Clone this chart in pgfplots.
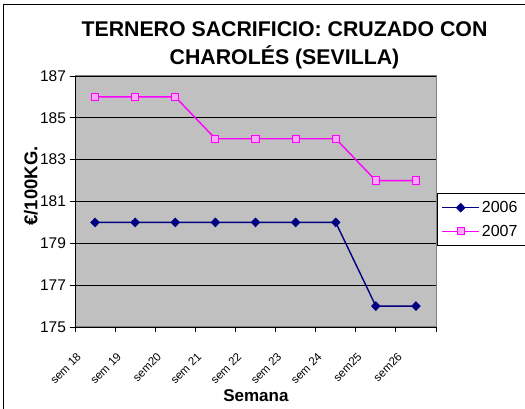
\documentclass[border=0pt]{standalone}
\usepackage{pgfplots}
\pgfplotsset{compat=1.18}
\usepackage{fontspec}
\setmainfont{Liberation Sans}
\definecolor{silverbg}{RGB}{192,192,192}
\definecolor{framegray}{RGB}{128,128,128}
\definecolor{navyc}{RGB}{0,0,128}
\definecolor{magc}{RGB}{255,0,255}
\pgfplotstableread{
x    y2006 y2007
0.5  180   186
1.5  180   186
2.5  180   186
3.5  180   184
4.5  180   184
5.5  180   184
6.5  180   184
7.5  176   182
8.5  176   182
}\datatable
\begin{document}
\begin{tikzpicture}
\path[use as bounding box] (0pt,0pt) rectangle (525pt,409pt);
\begin{scope}
\clip (0pt,0pt) rectangle (525pt,409pt);
\draw[line width=1pt] (3pt,-10pt) rectangle (580pt,404pt);
\node[anchor=base, font=\fontsize{21.3}{24}\selectfont\bfseries] at (284.5pt,372.5pt) {TERNERO SACRIFICIO: CRUZADO CON};
\node[anchor=base, font=\fontsize{21.3}{24}\selectfont\bfseries] at (284.5pt,344pt) {CHAROLÉS (SEVILLA)};
\begin{axis}[
  at={(75pt,82pt)}, anchor=south west,
  scale only axis, width=361pt, height=251pt,
  xmin=0, xmax=9, ymin=175, ymax=187,
  ytick={175,177,...,187},
  xtick={0,...,9}, xticklabels={},
  extra x ticks={0.5,1.5,...,8.5},
  extra x tick labels={sem 18,sem 19,sem20,sem 21,sem 22,sem 23,sem 24,sem25,sem26},
  extra x tick style={major tick length=0pt, grid=none,
     xticklabel style={font=\fontsize{11.5}{13}\selectfont, inner sep=0pt,
        xshift=-16pt, yshift=-28pt, rotate=45, anchor=east}},
  axis lines=left, axis line style={-, black, line width=0.8pt},
  tick align=outside, major tick length=5.5pt,
  tick style={black, line width=0.8pt},
  ymajorgrids=true, grid style={black, line width=0.8pt},
  axis background/.style={fill=silverbg, draw=framegray, line width=1pt},
  /pgf/number format/assume math mode=true,
  yticklabel style={font=\fontsize{15.5}{18}\selectfont},
  ylabel={€/100KG.},
  ylabel style={at={(axis description cs:-0.122,0.562)}, anchor=center, rotate=0,
     font=\fontsize{18.5}{22}\selectfont\bfseries},
  xlabel={Semana},
  xlabel style={at={(axis description cs:0.501,-0.275)}, anchor=center,
     font=\fontsize{17}{20}\selectfont\bfseries},
  legend style={at={(axis description cs:1.003,0.534)}, anchor=north west,
     draw=black, line width=0.8pt, font=\fontsize{16}{19}\selectfont,
     row sep=7pt, inner xsep=4pt, inner ysep=6pt,
     nodes={text width=50pt}},
  legend cell align=left,
  legend image code/.code={\draw[mark repeat=2,mark phase=2,#1] plot coordinates {(0pt,0pt) (18.5pt,0pt) (37pt,0pt)};},
  clip=false,
]
\addplot[navyc, line width=1.4pt, mark=diamond*, mark size=4.5pt,
  mark options={solid, fill=navyc, xscale=1.3, line width=0.5pt}]
  table[x=x, y=y2006] {\datatable};
\addlegendentry{2006}
\addplot[magc, line width=1.4pt, mark=square*, mark size=3.6pt,
  mark options={solid, fill=magc!35, draw=magc, line width=1pt}]
  table[x=x, y=y2007] {\datatable};
\addlegendentry{2007}
\end{axis}
\end{scope}
\end{tikzpicture}
\end{document}
